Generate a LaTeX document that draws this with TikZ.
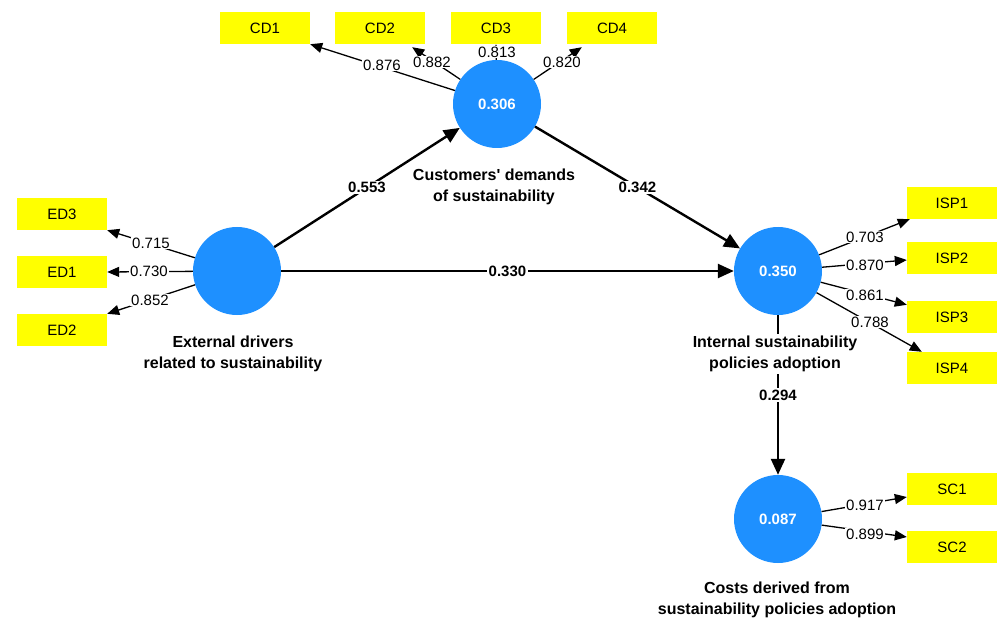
\documentclass[tikz,border=0pt]{standalone}
\usepackage{fontspec}
\setmainfont{Liberation Sans}
\usetikzlibrary{arrows.meta}
\definecolor{plsblue}{RGB}{30,144,255}
\definecolor{plsyellow}{RGB}{255,255,0}
\begin{document}
\begin{tikzpicture}[x=1pt,y=-1pt,
 lv/.style={circle, fill=plsblue, minimum size=88pt, inner sep=0pt, text=white, font=\bfseries\fontsize{15}{18}\selectfont},
 mv/.style={rectangle, fill=plsyellow, minimum width=90pt, minimum height=32pt, inner sep=0pt, font=\fontsize{15}{18}\selectfont},
 ld/.style={fill=white, inner sep=1pt, font=\fontsize{15}{18}\selectfont},
 pc/.style={fill=white, inner sep=1.5pt, font=\bfseries\fontsize{15}{18}\selectfont},
 cname/.style={fill=white, inner sep=2pt, align=center, font=\bfseries\fontsize{16}{21}\selectfont},
 outerarr/.style={draw=black, line width=1.3pt, -{Triangle[length=12pt,width=10pt]}},
 innerarr/.style={draw=black, line width=2.4pt, -{Triangle[length=16pt,width=14pt]}},
]
\useasboundingbox[fill=white] (0,0) rectangle (997,623);

% latent variables
\node[lv] (cd) at (497,104) {0.306};
\node[lv] (ed) at (237,271) {};
\node[lv] (isp) at (778,271) {0.350};
\node[lv] (sc) at (778,519) {0.087};

% indicators
\node[mv] (cd1) at (265,28) {CD1};
\node[mv] (cd2) at (380,28) {CD2};
\node[mv] (cd3) at (496,28) {CD3};
\node[mv] (cd4) at (612,28) {CD4};
\node[mv] (ed3) at (62,214) {ED3};
\node[mv] (ed1) at (62,272) {ED1};
\node[mv] (ed2) at (62,330) {ED2};
\node[mv] (isp1) at (952,203) {ISP1};
\node[mv] (isp2) at (952,258) {ISP2};
\node[mv] (isp3) at (952,317) {ISP3};
\node[mv] (isp4) at (952,368) {ISP4};
\node[mv] (sc1) at (952,489) {SC1};
\node[mv] (sc2) at (952,547) {SC2};

% outer model arrows
\draw[outerarr] (cd) -- (cd1.south east);
\draw[outerarr] (cd) -- ([xshift=-13pt,yshift=-3pt]cd2.south east);
\draw[outerarr] (cd) -- (cd3.south);
\draw[outerarr] (cd) -- ([xshift=15pt,yshift=-3pt]cd4.south west);
\draw[outerarr] (ed) -- (ed3.south east);
\draw[outerarr] (ed) -- (ed1.east);
\draw[outerarr] (ed) -- (ed2.north east);
\draw[outerarr] (isp) -- ([xshift=3pt]isp1.south west);
\draw[outerarr] (isp) -- ([yshift=-2pt]isp2.west);
\draw[outerarr] (isp) -- ([yshift=-4pt]isp3.north west);
\draw[outerarr] (isp) -- ([xshift=15pt]isp4.north west);
\draw[outerarr] (sc) -- ([yshift=-8pt]sc1.west);
\draw[outerarr] (sc) -- ([yshift=10pt]sc2.west);

% loadings
\node[ld] (l1) at (382,65) {0.876};
\node[ld] (l2) at (432,62) {0.882};
\node[ld] (l3) at (497,52) {0.813};
\node[ld] (l4) at (562,62) {0.820};
\node[ld] (l5) at (151,243) {0.715};
\node[ld] (l6) at (149,271) {0.730};
\node[ld] (l7) at (150,300) {0.852};
\node[ld] (l8) at (865,237) {0.703};
\node[ld] (l9) at (865,265) {0.870};
\node[ld] (l10) at (865,295) {0.861};
\node[ld] (l11) at (870,322) {0.788};
\node[ld] (l12) at (865,505) {0.917};
\node[ld] (l13) at (865,534) {0.899};

% inner model
\draw[innerarr] (ed) -- node[pc] (p1) {0.553} (cd);
\draw[innerarr] (cd) -- node[pc] (p2) {0.342} (isp);
\draw[innerarr] (ed) -- node[pc] (p3) {0.330} (isp);
\draw[innerarr] (isp) -- node[pc] (p4) {0.294} (sc);

% construct names
\node[cname] (ncd) at (494,186.5) {Customers\textquotesingle{} demands\\of sustainability};
\node[cname] (ned) at (233,354) {External drivers\\related to sustainability};
\node[cname] (nisp) at (775,354) {Internal sustainability\\policies adoption};
\node[cname] (nsc) at (777,600) {Costs derived from\\sustainability policies adoption};
\end{tikzpicture}
\end{document}
